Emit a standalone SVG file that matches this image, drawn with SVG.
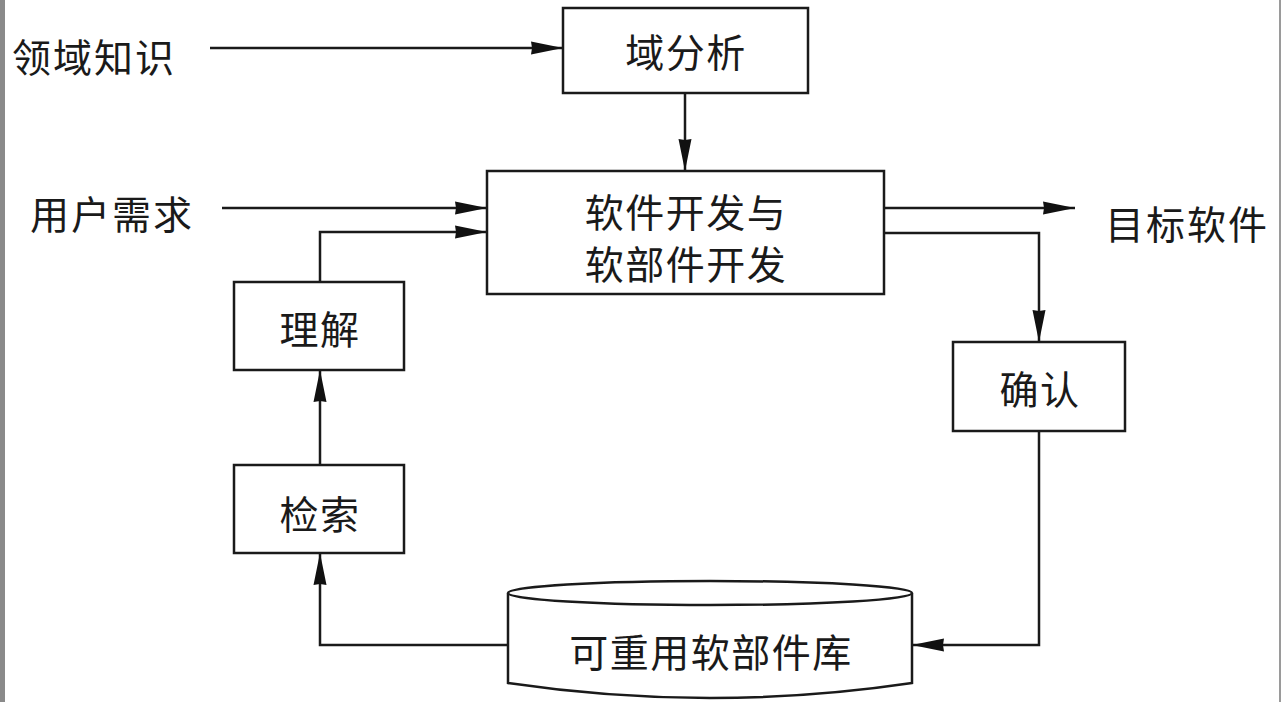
<svg xmlns="http://www.w3.org/2000/svg" width="1283" height="702" viewBox="0 0 1283 702">
<style>
.box{fill:#fff;stroke:#1a1a1a;stroke-width:2.5}
.ln{fill:none;stroke:#1a1a1a;stroke-width:2.5}
.t{font-family:"Noto Sans CJK SC","Liberation Sans",sans-serif;font-size:39px;letter-spacing:1.5px;fill:#1a1a1a;text-anchor:middle;dominant-baseline:central}
.tl{font-family:"Noto Sans CJK SC","Liberation Sans",sans-serif;font-size:39px;letter-spacing:2px;fill:#1a1a1a;dominant-baseline:central}
</style>
<defs>
<marker id="ah" markerUnits="userSpaceOnUse" markerWidth="34" markerHeight="14" refX="32" refY="7" orient="auto">
<path d="M0,0.5 L32,7 L0,13.5 L1,7 Z" fill="#111"/>
</marker>
</defs>
<rect x="0" y="0" width="1283" height="702" fill="#fff"/>
<rect x="0" y="0" width="5" height="702" fill="#8a8a8a"/>
<rect x="1279" y="0" width="2" height="702" fill="#9a9a9a"/>

<g id="connectors">
<line class="ln" x1="210" y1="48" x2="563" y2="48" marker-end="url(#ah)"/>
<line class="ln" x1="685" y1="93" x2="685" y2="171" marker-end="url(#ah)"/>
<line class="ln" x1="222" y1="208" x2="487" y2="208" marker-end="url(#ah)"/>
<polyline class="ln" points="320,282 320,232 487,232" marker-end="url(#ah)"/>
<line class="ln" x1="884" y1="208" x2="1075" y2="208" marker-end="url(#ah)"/>
<polyline class="ln" points="884,233 1039,233 1039,342" marker-end="url(#ah)"/>
<polyline class="ln" points="1039,431 1039,645 912,645" marker-end="url(#ah)"/>
<polyline class="ln" points="508,645 320,645 320,553" marker-end="url(#ah)"/>
<line class="ln" x1="320" y1="465" x2="320" y2="370" marker-end="url(#ah)"/>
</g>

<g id="domain-knowledge"><text class="tl" x="12" y="55">领域知识</text></g>
<g id="user-req"><text class="tl" x="30" y="212">用户需求</text></g>
<g id="target-sw"><text class="tl" x="1105" y="222">目标软件</text></g>

<g id="domain-analysis">
<rect class="box" x="563" y="8" width="245" height="85"/>
<text class="t" x="686" y="50">域分析</text>
</g>
<g id="dev">
<rect class="box" x="487" y="171" width="397" height="123"/>
<text class="t" x="686" y="210">软件开发与</text>
<text class="t" x="686" y="262">软部件开发</text>
</g>
<g id="understand">
<rect class="box" x="234" y="282" width="170" height="88"/>
<text class="t" x="320" y="327">理解</text>
</g>
<g id="retrieve">
<rect class="box" x="234" y="465" width="170" height="88"/>
<text class="t" x="320" y="512">检索</text>
</g>
<g id="confirm">
<rect class="box" x="953" y="342" width="172" height="89"/>
<text class="t" x="1040" y="387">确认</text>
</g>
<g id="repository">
<path class="box" d="M508,593 L508,683 Q710,713 912,683 L912,593"/>
<ellipse class="box" cx="710" cy="593" rx="202" ry="12"/>
<text class="t" x="711" y="650">可重用软部件库</text>
</g>
</svg>
